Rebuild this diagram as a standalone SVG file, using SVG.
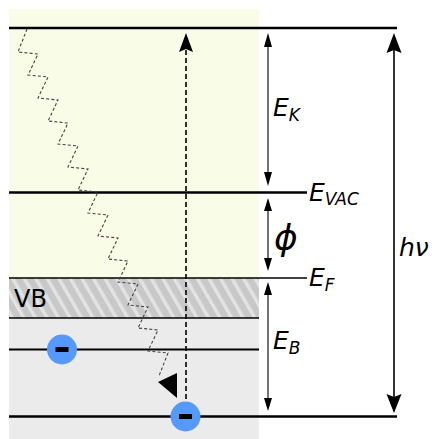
<svg xmlns="http://www.w3.org/2000/svg" width="432" height="439" viewBox="0 0 432 439">
<defs>
<style>
.lvl{stroke:#000;fill:none}
.lab{font-family:"DejaVu Sans",sans-serif;font-style:italic;font-size:25px;fill:#000}
.sub{font-size:17px}
.phi{font-size:36px}
.thin{stroke:#000;stroke-width:1.1;fill:none}
.elec{fill:#5599ff}
</style>
<pattern id="hatch" patternUnits="userSpaceOnUse" width="10" height="10" patternTransform="rotate(-30)">
<rect width="10" height="10" fill="#c8c8c8"/>
<rect width="3.5" height="10" fill="#e3e3e3"/>
</pattern>
</defs>
<rect width="432" height="439" fill="#fff"/>
<g id="background">
<rect x="9" y="9" width="250" height="269" fill="#f9fce6"/>
<rect x="9" y="278" width="250" height="161" fill="#ebebeb"/>
<rect x="9" y="278" width="250" height="40" fill="url(#hatch)"/>
</g>
<g id="levels">
<line id="top" class="lvl" x1="9" y1="28" x2="397" y2="28" stroke-width="2.5"/>
<line id="evac" class="lvl" x1="9" y1="192.5" x2="307" y2="192.5" stroke-width="2.5"/>
<line id="ef" class="lvl" x1="9" y1="278" x2="307" y2="278" stroke-width="1.6"/>
<line id="vb-bottom" class="lvl" x1="9" y1="318" x2="259" y2="318" stroke-width="1.6"/>
<line id="core1" class="lvl" x1="9" y1="349.5" x2="259" y2="349.5" stroke-width="2"/>
<line id="core2" class="lvl" x1="9" y1="416.5" x2="397" y2="416.5" stroke-width="2.5"/>
</g>
<g id="connectors">
<path id="photon" d="M27,29 L18,52 L38,54 L28,75 L48,77 L38,98 L58,100 L48,121 L68,123 L58,144 L78,146 L68,167 L88,169 L78,190 L98,192 L88,213 L108,215 L98,236 L118,238 L108,259 L128,261 L118,282 L138,284 L128,305 L148,307 L138,328 L158,330 L148,351 L168,353 L159,376" fill="none" stroke="#444" stroke-width="1.1" stroke-dasharray="3,2.2"/>
<polygon points="158,382 177,373 177,398" fill="#000"/>
<line x1="186" y1="50" x2="186" y2="405" stroke="#000" stroke-width="1.6" stroke-dasharray="5,3"/>
<polygon points="186,33 179,52 186,49 193,52" fill="#000"/>
<line class="thin" x1="268" y1="40" x2="268" y2="178"/>
<polygon points="268,33 264,47 272,47" fill="#000"/>
<polygon points="268,186 264,172 272,172" fill="#000"/>
<line class="thin" x1="268" y1="204" x2="268" y2="264"/>
<polygon points="268,198 264,211 272,211" fill="#000"/>
<polygon points="268,271 264,258 272,258" fill="#000"/>
<line class="thin" x1="268" y1="289" x2="268" y2="404"/>
<polygon points="268,282 264,295 272,295" fill="#000"/>
<polygon points="268,411 264,398 272,398" fill="#000"/>
<line x1="394" y1="45" x2="394" y2="400" stroke="#000" stroke-width="1.6"/>
<polygon points="394,33 386.5,53 394,50 401.5,53" fill="#000"/>
<polygon points="394,413 386.5,394 394,397 401.5,394" fill="#000"/>
</g>
<g id="electron1">
<circle class="elec" cx="62" cy="349.5" r="15"/>
<rect x="55.5" y="347" width="13" height="5" fill="#000"/>
</g>
<g id="electron2">
<circle class="elec" cx="185.5" cy="416.5" r="15"/>
<rect x="179" y="414" width="13" height="5" fill="#000"/>
</g>
<g id="labels">
<text x="14" y="307" font-family="DejaVu Sans,sans-serif" font-size="24" fill="#000">VB</text>
<text class="lab" x="273" y="116">E<tspan class="sub" dy="5">K</tspan></text>
<text class="lab" x="309" y="201">E<tspan class="sub" dy="4">VAC</tspan></text>
<text class="lab phi" x="274" y="250">ϕ</text>
<text class="lab" x="309" y="286">E<tspan class="sub" dy="5">F</tspan></text>
<text class="lab" x="273" y="349">E<tspan class="sub" dy="5">B</tspan></text>
<text class="lab" x="399" y="256">hν</text>
</g>
</svg>
